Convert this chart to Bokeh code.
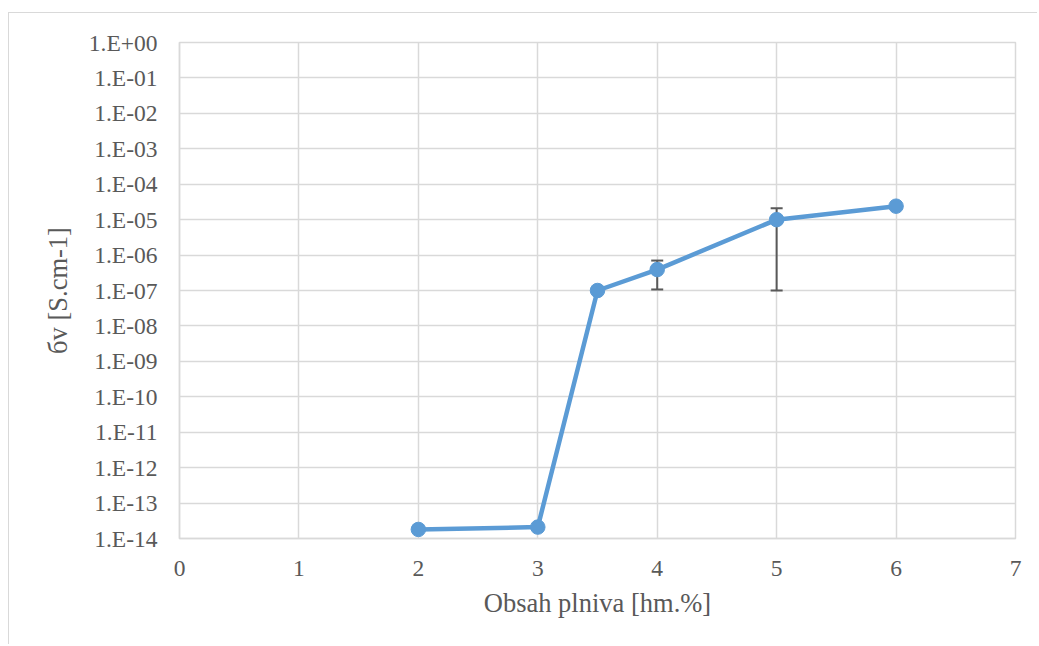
from bokeh.plotting import figure
from bokeh.models import (ColumnDataSource, FixedTicker, Whisker, TeeHead,
                          Range1d)
from bokeh.embed import file_html
from bokeh.resources import INLINE

# ---- data ----
x_content = [2, 3, 3.5, 4, 5, 6]
sigma_v = [1.8e-14, 2.1e-14, 1.0e-7, 3.9e-7, 1.0e-5, 2.4e-5]

err_x = [4, 5]
err_upper = [7.0e-7, 2.1e-5]
err_lower = [1.07e-7, 1.0e-7]

x_ticks = [0, 1, 2, 3, 4, 5, 6, 7]
y_tick_values = [1e0, 1e-1, 1e-2, 1e-3, 1e-4, 1e-5, 1e-6, 1e-7,
                 1e-8, 1e-9, 1e-10, 1e-11, 1e-12, 1e-13, 1e-14]
y_tick_labels = ["1.E+00", "1.E-01", "1.E-02", "1.E-03", "1.E-04", "1.E-05",
                 "1.E-06", "1.E-07", "1.E-08", "1.E-09", "1.E-10", "1.E-11",
                 "1.E-12", "1.E-13", "1.E-14"]

x_title = "Obsah plniva [hm.%]"
y_title = "бv [S.cm-1]"

FONT = "Liberation Serif"
TXT = "#595959"
GRID = "#d9d9d9"
BLUE = "#5b9bd5"

p = figure(width=1029, height=632, y_axis_type="log",
           x_range=Range1d(0, 7), y_range=Range1d(1e-14, 1e0),
           output_backend="svg", toolbar_location=None,
           min_border_left=170, min_border_right=23,
           min_border_top=29, min_border_bottom=107)
p.styles = {"margin-left": "8px", "margin-top": "12px",
            "border-left": "1px solid #d9d9d9",
            "border-top": "1px solid #d9d9d9"}
p.background_fill_color = "white"
p.border_fill_color = "white"
p.outline_line_color = GRID
p.outline_line_width = 1.5

# grid
p.xgrid.ticker = FixedTicker(ticks=x_ticks)
p.ygrid.ticker = FixedTicker(ticks=y_tick_values)
for g in (p.xgrid, p.ygrid):
    g.grid_line_color = GRID
    g.grid_line_width = 1.5
p.ygrid.minor_grid_line_color = None

# axes
p.xaxis.ticker = FixedTicker(ticks=x_ticks)
p.yaxis.ticker = FixedTicker(ticks=y_tick_values)
p.yaxis.major_label_overrides = dict(zip(y_tick_values, y_tick_labels))
for ax in (p.xaxis, p.yaxis):
    ax.axis_line_color = GRID
    ax.axis_line_width = 1.5
    ax.major_tick_line_color = None
    ax.minor_tick_line_color = None
    ax.major_tick_out = 0
    ax.major_tick_in = 0
    ax.minor_tick_out = 0
    ax.minor_tick_in = 0
    ax.major_label_text_font = FONT
    ax.major_label_text_font_size = "23.5px"
    ax.major_label_text_color = TXT
    ax.axis_label_text_font = FONT
    ax.axis_label_text_font_size = "26.5px"
    ax.axis_label_text_color = TXT
    ax.axis_label_text_font_style = "normal"

p.xaxis.axis_label = x_title
p.yaxis.axis_label = y_title
p.xaxis.major_label_standoff = 22
p.xaxis.axis_label_standoff = 9
p.yaxis.major_label_standoff = 22
p.yaxis.axis_label_standoff = 13

# error bars
esrc = ColumnDataSource(dict(x=err_x, upper=err_upper, lower=err_lower))
wh = Whisker(source=esrc, base="x", upper="upper", lower="lower",
             dimension="height", line_color=TXT, line_width=2,
             upper_head=TeeHead(size=12, line_color=TXT, line_width=2),
             lower_head=TeeHead(size=12, line_color=TXT, line_width=2))
p.add_layout(wh)

src = ColumnDataSource(dict(x=x_content, y=sigma_v))
p.line("x", "y", source=src, line_color=BLUE, line_width=4.5)
p.scatter("x", "y", source=src, size=14.5, fill_color=BLUE, line_color=BLUE)

open("out.html", "w").write(file_html(p, INLINE))
